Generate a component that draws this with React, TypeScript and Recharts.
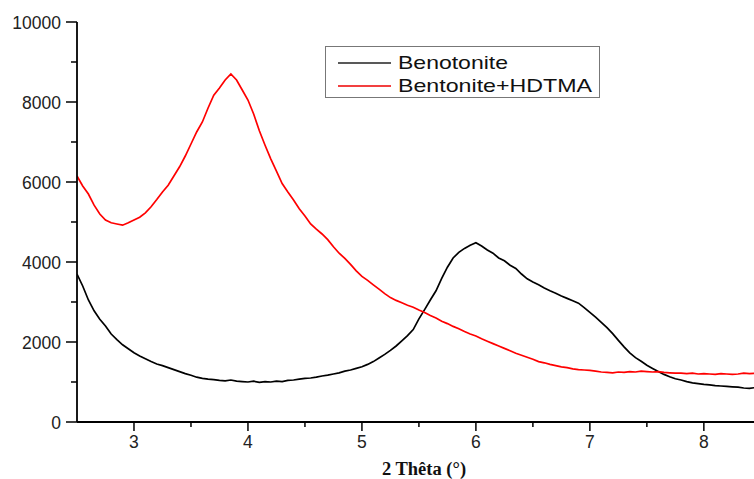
import React from 'react';
import { LineChart, Line, XAxis, YAxis } from 'recharts';

const theta = [
  2.5, 2.55, 2.6, 2.65, 2.7, 2.75, 2.8, 2.85, 2.9, 2.95,
  3.0, 3.05, 3.1, 3.15, 3.2, 3.25, 3.3, 3.35, 3.4, 3.45,
  3.5, 3.55, 3.6, 3.65, 3.7, 3.75, 3.8, 3.85, 3.9, 3.95,
  4.0, 4.05, 4.1, 4.15, 4.2, 4.25, 4.3, 4.35, 4.4, 4.45,
  4.5, 4.55, 4.6, 4.65, 4.7, 4.75, 4.8, 4.85, 4.9, 4.95,
  5.0, 5.05, 5.1, 5.15, 5.2, 5.25, 5.3, 5.35, 5.4, 5.45,
  5.5, 5.55, 5.6, 5.65, 5.7, 5.75, 5.8, 5.85, 5.9, 5.95,
  6.0, 6.05, 6.1, 6.15, 6.2, 6.25, 6.3, 6.35, 6.4, 6.45,
  6.5, 6.55, 6.6, 6.65, 6.7, 6.75, 6.8, 6.85, 6.9, 6.95,
  7.0, 7.05, 7.1, 7.15, 7.2, 7.25, 7.3, 7.35, 7.4, 7.45,
  7.5, 7.55, 7.6, 7.65, 7.7, 7.75, 7.8, 7.85, 7.9, 7.95,
  8.0, 8.05, 8.1, 8.15, 8.2, 8.25, 8.3, 8.35, 8.4, 8.45,
];

const benotonite = [
  3700, 3400, 3050, 2780, 2570, 2400, 2200, 2060, 1930, 1830,
  1730, 1650, 1580, 1510, 1450, 1410, 1360, 1310, 1260, 1210,
  1170, 1120, 1090, 1070, 1060, 1040, 1030, 1050, 1020, 1010,
  1000, 1020, 990, 1010, 1000, 1020, 1010, 1040, 1050, 1070,
  1090, 1100, 1120, 1150, 1170, 1200, 1230, 1270, 1300, 1340,
  1380, 1440, 1510, 1600, 1690, 1790, 1900, 2030, 2160, 2310,
  2580, 2810, 3050, 3280, 3590, 3870, 4100, 4240, 4340, 4420,
  4480, 4400, 4300, 4220, 4100, 4030, 3920, 3840, 3700, 3580,
  3500, 3430, 3350, 3280, 3220, 3150, 3090, 3030, 2970, 2860,
  2740, 2620, 2490, 2360, 2210, 2040, 1880, 1730, 1610, 1520,
  1420, 1340, 1260, 1190, 1130, 1080, 1050, 1010, 980, 960,
  940, 930, 910, 900, 890, 880, 870, 850, 840, 860,
];

const bentoniteHdtma = [
  6150, 5900, 5700, 5420, 5200, 5050, 4980, 4950, 4920, 4980,
  5050, 5120, 5230, 5380, 5560, 5750, 5920, 6150, 6380, 6650,
  6950, 7250, 7500, 7850, 8170, 8350, 8550, 8700, 8550, 8300,
  8050, 7700, 7280, 6920, 6580, 6270, 5960, 5750, 5550, 5330,
  5150, 4950, 4820, 4700, 4560, 4380, 4220, 4090, 3940, 3780,
  3640, 3540, 3430, 3320, 3210, 3110, 3040, 2980, 2920, 2870,
  2800, 2740, 2660, 2600, 2520, 2460, 2390, 2330, 2260, 2200,
  2150, 2080, 2020, 1960, 1900, 1840, 1780, 1720, 1670, 1620,
  1570, 1510, 1480, 1440, 1410, 1380, 1360, 1330, 1310, 1300,
  1290, 1270, 1250, 1240, 1230, 1250, 1240, 1260, 1250, 1270,
  1260, 1250, 1260, 1240, 1230, 1220, 1220, 1210, 1220, 1200,
  1210, 1200, 1190, 1210, 1200, 1190, 1200, 1220, 1210, 1220,
];

const xTicks = [3, 3.5, 4, 4.5, 5, 5.5, 6, 6.5, 7, 7.5, 8];
const xMajorTicks = [3, 4, 5, 6, 7, 8];
const yTicks = [0, 1000, 2000, 3000, 4000, 5000, 6000, 7000, 8000, 9000, 10000];
const yMajorTicks = [0, 2000, 4000, 6000, 8000, 10000];

const seriesNames = ['Benotonite', 'Bentonite+HDTMA'];
const xTitle = '2 Thêta (°)';

const data = theta.map((t, i) => ({
  theta: t,
  benotonite: benotonite[i],
  hdtma: bentoniteHdtma[i],
}));

const SANS = "'Liberation Sans', Arial, Helvetica, sans-serif";

const XTick = (props: any) => {
  const { x, y, payload } = props;
  const major = xMajorTicks.includes(payload.value);
  return (
    <g>
      <line x1={x} y1={y} x2={x} y2={y + (major ? 9 : 5)} stroke="#000" strokeWidth={1.5} />
      {major && (
        <text x={x} y={y + 26} textAnchor="middle" fontSize={17.5} fontFamily={SANS} fill="#222">
          {payload.value}
        </text>
      )}
    </g>
  );
};

const YTick = (props: any) => {
  const { x, y, payload } = props;
  const major = yMajorTicks.includes(payload.value);
  return (
    <g>
      <line x1={x - (major ? 11 : 6)} y1={y} x2={x} y2={y} stroke="#000" strokeWidth={1.5} />
      {major && (
        <text x={x - 16} y={y + 6.5} textAnchor="end" fontSize={17.5} fontFamily={SANS} fill="#222">
          {payload.value}
        </text>
      )}
    </g>
  );
};

export default function App() {
  return (
    <div style={{ position: 'relative', width: 754, height: 479, background: '#fff' }}>
      <style>{`body{margin:0;background:#fff;}`}</style>
      <LineChart
        width={754}
        height={479}
        data={data}
        margin={{ top: 22, right: 0, bottom: 0, left: 0 }}
      >
        <XAxis
          type="number"
          dataKey="theta"
          domain={[2.5, 8.44]}
          allowDataOverflow
          ticks={xTicks}
          interval={0}
          tickSize={0}
          tickMargin={0}
          tickLine={false}
          tick={<XTick />}
          height={57}
          axisLine={{ stroke: '#000', strokeWidth: 1.8 }}
        />
        <YAxis
          type="number"
          domain={[0, 10000]}
          ticks={yTicks}
          interval={0}
          tickSize={0}
          tickMargin={0}
          tickLine={false}
          tick={<YTick />}
          width={77}
          axisLine={{ stroke: '#000', strokeWidth: 1.8 }}
        />
        <Line
          type="linear"
          dataKey="benotonite"
          stroke="#000"
          strokeWidth={1.7}
          dot={false}
          isAnimationActive={false}
        />
        <Line
          type="linear"
          dataKey="hdtma"
          stroke="#ff0000"
          strokeWidth={1.7}
          dot={false}
          isAnimationActive={false}
        />
      </LineChart>
      <svg
        width={754}
        height={479}
        style={{ position: 'absolute', left: 0, top: 0, pointerEvents: 'none' }}
      >
        <rect x={325.5} y={46.5} width={274} height={51} fill="#fff" stroke="#777" strokeWidth={1} />
        <line x1={338} y1={63} x2={391} y2={63} stroke="#222" strokeWidth={1.6} />
        <line x1={338} y1={86} x2={391} y2={86} stroke="#e00" strokeWidth={1.6} />
        <text x={398} y={68.5} fontSize={19} fontFamily={SANS} fill="#111" textLength={110} lengthAdjust="spacingAndGlyphs">
          {seriesNames[0]}
        </text>
        <text x={398} y={92} fontSize={19} fontFamily={SANS} fill="#111" textLength={194} lengthAdjust="spacingAndGlyphs">
          {seriesNames[1]}
        </text>
        <text
          x={424}
          y={475}
          textAnchor="middle"
          fontSize={18.5}
          fontWeight="bold"
          fontFamily="'Liberation Serif', 'Times New Roman', serif"
          fill="#111"
        >
          {xTitle}
        </text>
      </svg>
    </div>
  );
}
